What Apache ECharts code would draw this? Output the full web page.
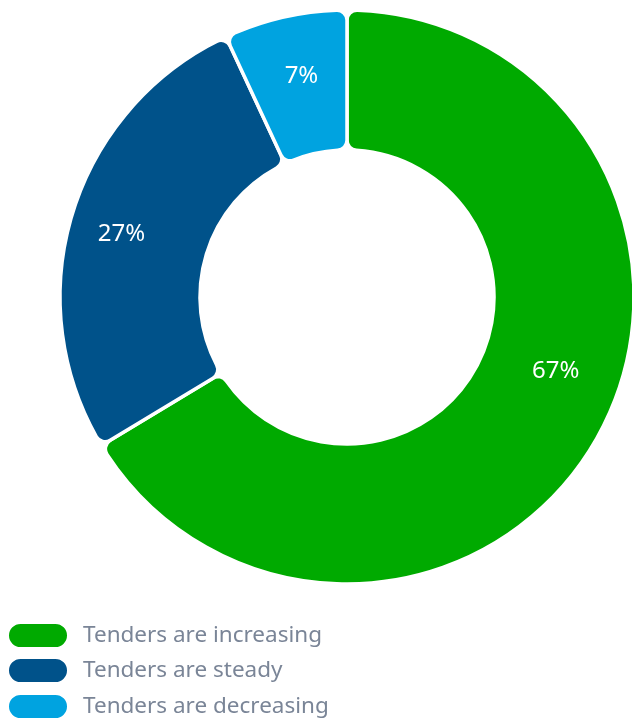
<!DOCTYPE html>
<html><head><meta charset="utf-8">
<script src="https://cdn.jsdelivr.net/npm/echarts@6/dist/echarts.min.js"></script>
<style>html,body{margin:0;padding:0;background:#fff}#c{width:632px;height:719px}</style>
</head><body><div id="c"></div>
<script>
const categories = ['Tenders are increasing', 'Tenders are steady', 'Tenders are decreasing'];
const values = [67, 27, 7];
const colors = ['#00AA00', '#00528A', '#00A3E0'];
const labelOffsets = [[17, -34], [-15, 1], [2, -6]];
const legendTops = [622, 657, 693];

const chart = echarts.init(document.getElementById('c'), null, {renderer: 'canvas'});
chart.setOption({
  animation: false,
  color: colors,
  legend: categories.map((c, i) => ({
    orient: 'vertical',
    left: 7,
    top: legendTops[i],
    padding: 0,
    itemWidth: 60,
    itemHeight: 25,
    icon: 'path://M12.5,0 H47.5 A12.5,12.5 0 0 1 47.5,25 H12.5 A12.5,12.5 0 0 1 12.5,0 Z',
    textStyle: {fontFamily: 'Noto Sans', fontSize: 22.5, color: '#7A8597', padding: [0, 0, 0, 10]},
    data: [c]
  })),
  series: [{
    type: 'pie',
    center: [347, 297],
    radius: [147, 287],
    startAngle: 90,
    clockwise: true,
    itemStyle: {borderColor: '#fff', borderWidth: 3.5, borderRadius: 10},
    label: {
      position: 'inside',
      formatter: '{c}%',
      color: '#fff',
      fontFamily: 'Noto Sans',
      fontSize: 24,
      fontWeight: 'normal',
      textBorderWidth: 0
    },
    labelLine: {show: false},
    emphasis: {disabled: true},
    data: categories.map((n, i) => ({name: n, value: values[i], label: {offset: labelOffsets[i]}}))
  }]
});
</script></body></html>
